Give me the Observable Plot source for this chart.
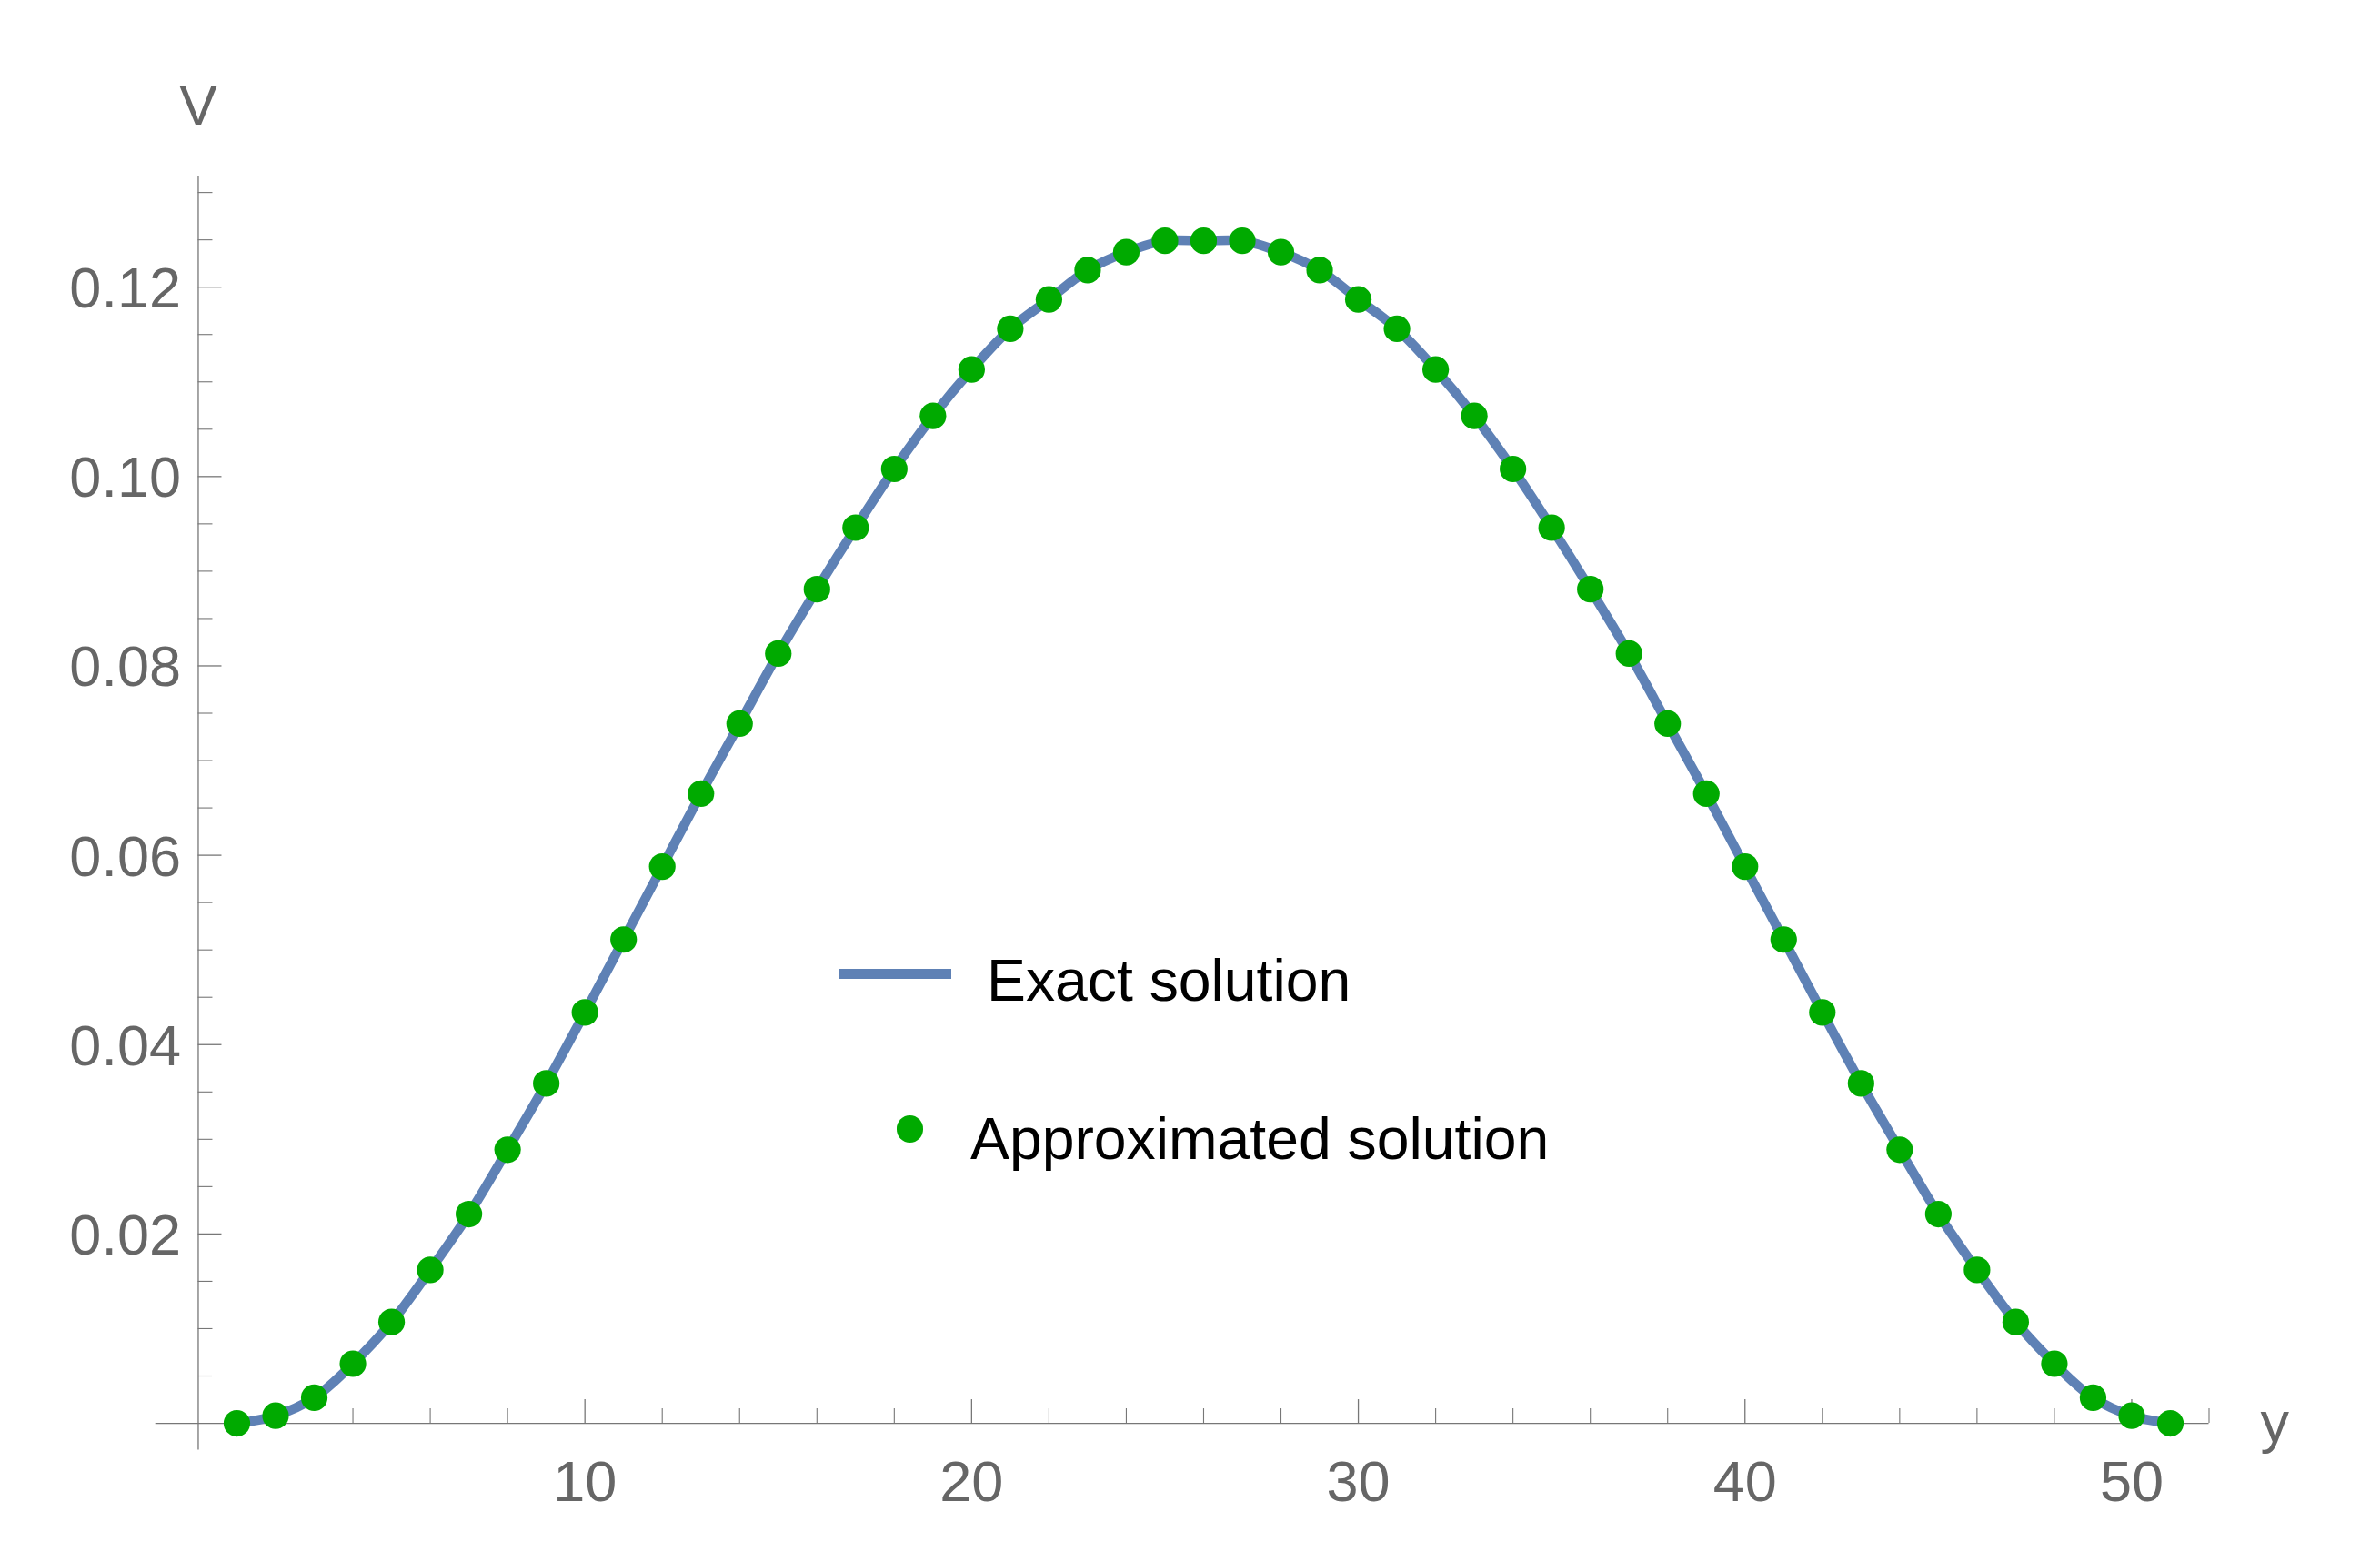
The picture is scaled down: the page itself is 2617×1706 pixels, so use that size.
<!DOCTYPE html>
<html>
<head>
<meta charset="utf-8">
<script src="https://cdn.jsdelivr.net/npm/d3@7"></script>
<script src="https://cdn.jsdelivr.net/npm/@observablehq/plot@0.6"></script>
<style>
html, body { margin: 0; padding: 0; background: #fff; }
#wrap { position: relative; width: 2617px; height: 1706px; overflow: hidden; }
.leg { position: absolute; font-family: "Liberation Sans", Arial, sans-serif; font-size: 64.3px; color: #000; white-space: nowrap; line-height: 1; }
</style>
</head>
<body>
<div id="wrap"></div>
<script>
// ---- data ----
const yPositions = [1,2,3,4,5,6,7,8,9,10,11,12,13,14,15,16,17,18,19,20,21,22,23,24,25,26,
                    27,28,29,30,31,32,33,34,35,36,37,38,39,40,41,42,43,44,45,46,47,48,49,50,51];
const vValues = [0, 0.0008, 0.0027, 0.0063, 0.0107, 0.0162, 0.0221, 0.0289, 0.0359, 0.0434,
                 0.0511, 0.0588, 0.0665, 0.0739, 0.0813, 0.0881, 0.0946, 0.1008, 0.1064, 0.1113,
                 0.1156, 0.1187, 0.1218, 0.1237, 0.1249, 0.1249, 0.1249, 0.1237, 0.1218, 0.1187,
                 0.1156, 0.1113, 0.1064, 0.1008, 0.0946, 0.0881, 0.0813, 0.0739, 0.0665, 0.0588,
                 0.0511, 0.0434, 0.0359, 0.0289, 0.0221, 0.0162, 0.0107, 0.0063, 0.0027, 0.0008, 0];
const xMajorTicks = [10, 20, 30, 40, 50];
const xMinorTicks = [2, 4, 6, 8, 12, 14, 16, 18, 22, 24, 26, 28, 32, 34, 36, 38, 42, 44, 46, 48, 52];
const yMajorTicks = [0.02, 0.04, 0.06, 0.08, 0.10, 0.12];
const yMinorTicks = [0.005, 0.01, 0.015, 0.025, 0.03, 0.035, 0.045, 0.05, 0.055, 0.065, 0.07, 0.075,
                     0.085, 0.09, 0.095, 0.105, 0.11, 0.115, 0.125, 0.13];
const seriesNames = ["Exact solution", "Approximated solution"];
const xAxisLabel = "y";
const yAxisLabel = "V";

// ---- layout / style ----
const W = 2617, H = 1706;
const mL = 170.7, mR = 188.5, mT = 193, mB = 112.4;
const xDomain = [-1.1, 52];
const yDomain = [-0.00284, 0.13174];
const pxPerX = (W - mL - mR) / (xDomain[1] - xDomain[0]);
const pxPerY = (H - mT - mB) / (yDomain[1] - yDomain[0]);
const axisColor = "#777";
const labelColor = "#666";
const lineColor = "#5E81B5";
const dotColor = "#00AA00";
const fontSize = 63;
const legendFontSize = 64.3;

const points = yPositions.map((y, i) => ({y, v: vValues[i]}));

const chart = Plot.plot({
  width: W,
  height: H,
  marginLeft: mL,
  marginRight: mR,
  marginTop: mT,
  marginBottom: mB,
  x: {domain: xDomain, axis: null},
  y: {domain: yDomain, axis: null},
  style: {fontFamily: '"Liberation Sans", Arial, sans-serif', background: "#fff", overflow: "visible"},
  marks: [
    // axes lines
    Plot.ruleY([0], {stroke: axisColor, strokeWidth: 1.3}),
    Plot.ruleX([0], {stroke: axisColor, strokeWidth: 1.3}),
    // x ticks (pointing up)
    Plot.ruleX(xMajorTicks, {x: d => d, y1: 0, y2: 26 / pxPerY, stroke: axisColor, strokeWidth: 1.3}),
    Plot.ruleX(xMinorTicks, {x: d => d, y1: 0, y2: 16 / pxPerY, stroke: axisColor, strokeWidth: 1.1}),
    // y ticks (pointing right)
    Plot.ruleY(yMajorTicks, {y: d => d, x1: 0, x2: 26 / pxPerX, stroke: axisColor, strokeWidth: 1.3}),
    Plot.ruleY(yMinorTicks, {y: d => d, x1: 0, x2: 16 / pxPerX, stroke: axisColor, strokeWidth: 1.1}),
    // tick labels
    Plot.text(xMajorTicks, {x: d => d, y: 0, text: d => String(d), dy: 85.5, lineAnchor: "bottom",
      fontSize, fill: labelColor}),
    Plot.text(yMajorTicks, {x: 0, y: d => d, text: d => d.toFixed(2), textAnchor: "end", dx: -19, dy: 22.5,
      lineAnchor: "bottom", fontSize, fill: labelColor}),
    // axis labels
    Plot.text([yAxisLabel], {x: 0, text: d => d, frameAnchor: "top", dy: -56.4, lineAnchor: "bottom",
      fontSize, fill: labelColor}),
    Plot.text([xAxisLabel], {y: 0, text: d => d, frameAnchor: "right", textAnchor: "start", dx: 56.5, dy: 20.7,
      lineAnchor: "bottom", fontSize, fill: labelColor}),
    // data
    Plot.line(points, {x: "y", y: "v", stroke: lineColor, strokeWidth: 10.5, curve: "catmull-rom"}),
    Plot.dot(points, {x: "y", y: "v", r: 14.6, fill: dotColor, stroke: "none"})
  ]
});

const wrap = document.getElementById("wrap");
chart.style.position = "absolute";
chart.style.left = "0px";
chart.style.top = "0px";
wrap.appendChild(chart);

// ---- legend (inside the plot area) ----
const baselineOffset = (0.905 - (1.117 - 1) / 2) * legendFontSize; // baseline distance from top of a line-height:1 box
function addDiv(css, text) {
  const d = document.createElement("div");
  if (text !== undefined) { d.className = "leg"; d.textContent = text; }
  Object.assign(d.style, {position: "absolute"}, css);
  wrap.appendChild(d);
  return d;
}
addDiv({left: "923px", top: (1070.7 - 5.5) + "px", width: "122.5px", height: "11px", background: lineColor});
addDiv({left: "1085px", top: (1100 - baselineOffset) + "px"}, seriesNames[0]);
addDiv({left: (1000.9 - 14.6) + "px", top: (1241 - 14.6) + "px", width: "29.2px", height: "29.2px",
        borderRadius: "50%", background: dotColor});
addDiv({left: "1067px", top: (1274 - baselineOffset) + "px"}, seriesNames[1]);
</script>
</body>
</html>
